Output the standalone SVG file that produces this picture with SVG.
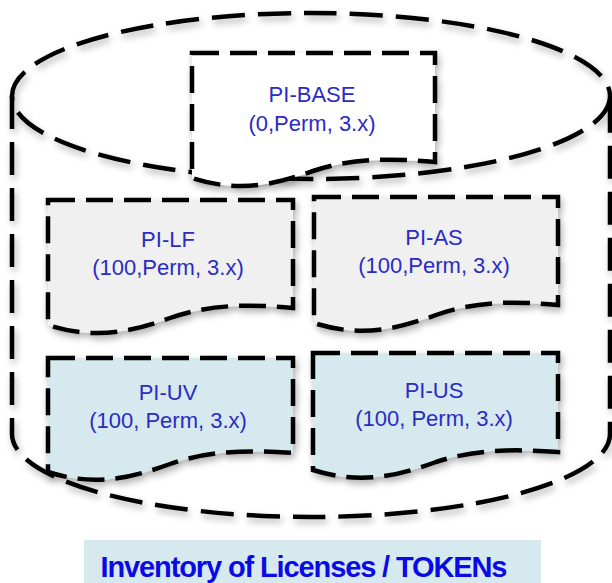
<svg xmlns="http://www.w3.org/2000/svg" width="612" height="583" viewBox="0 0 612 583">
  <defs>
    <filter id="sh" x="-10%" y="-10%" width="120%" height="130%">
      <feDropShadow dx="2" dy="4" stdDeviation="3.5" flood-color="#000" flood-opacity="0.3"/>
    </filter>
  </defs>
  <style>
    .cyl { fill: none; stroke: #000; stroke-width: 4.5; stroke-dasharray: 33 13; }
    .doc { stroke: #000; stroke-width: 4.5; stroke-dasharray: 27 11; stroke-linejoin: miter; }
    .white { fill: #ffffff; }
    .grey { fill: #f0f0f0; }
    .blue { fill: #d5e9ee; }
    .lbl { font-family: "Liberation Sans", Arial, sans-serif; font-size: 22px; fill: #2b2bc4; text-anchor: middle; }
    .title { font-family: "Liberation Sans", Arial, sans-serif; font-size: 29px; font-weight: bold; fill: #0a0ae6; text-anchor: middle; }
  </style>
  <rect width="612" height="583" fill="#ffffff"/>

  <g id="cylinder" filter="url(#sh)">
    <path class="cyl" d="M12,96 V434 A299,83 0 0 0 610,434 V96"/>
    <ellipse class="cyl" cx="311" cy="96" rx="299" ry="83"/>
  </g>

  <g id="pi-base">
    <path class="doc white" filter="url(#sh)" d="M192,53 H435 V162 C391,158 352,158 313,171 C274,185 238,193 192,178 Z"/>
    <text class="lbl" x="312" y="102">PI-BASE</text>
    <text class="lbl" x="312" y="131">(0,Perm, 3.x)</text>
  </g>

  <g id="pi-lf">
    <path class="doc grey" filter="url(#sh)" d="M48,200 H293 V308 C249,304 210,304 170,318 C131,332 95,340 48,325 Z"/>
    <text class="lbl" x="168" y="247">PI-LF</text>
    <text class="lbl" x="168" y="275">(100,Perm, 3.x)</text>
  </g>

  <g id="pi-as">
    <path class="doc grey" filter="url(#sh)" d="M314,197 H558 V305 C514,301 475,301 436,315 C397,329 361,338 314,323 Z"/>
    <text class="lbl" x="434" y="245">PI-AS</text>
    <text class="lbl" x="434" y="273">(100,Perm, 3.x)</text>
  </g>

  <g id="pi-uv">
    <path class="doc blue" filter="url(#sh)" d="M48,358 H293 V453 C249,450 210,450 170,464 C131,478 95,487 48,472 Z"/>
    <text class="lbl" x="168" y="400">PI-UV</text>
    <text class="lbl" x="168" y="428">(100, Perm, 3.x)</text>
  </g>

  <g id="pi-us">
    <path class="doc blue" filter="url(#sh)" d="M313,353 H558 V452 C514,449 475,449 436,462 C397,476 361,485 313,470 Z"/>
    <text class="lbl" x="434" y="398">PI-US</text>
    <text class="lbl" x="434" y="426">(100, Perm, 3.x)</text>
  </g>

  <g id="caption">
    <rect x="84" y="540" width="457" height="43" fill="#d5e9ee"/>
    <text class="title" x="304" y="577" textLength="407" lengthAdjust="spacing">Inventory of Licenses / TOKENs</text>
  </g>

  <g id="connectors"></g>
</svg>
